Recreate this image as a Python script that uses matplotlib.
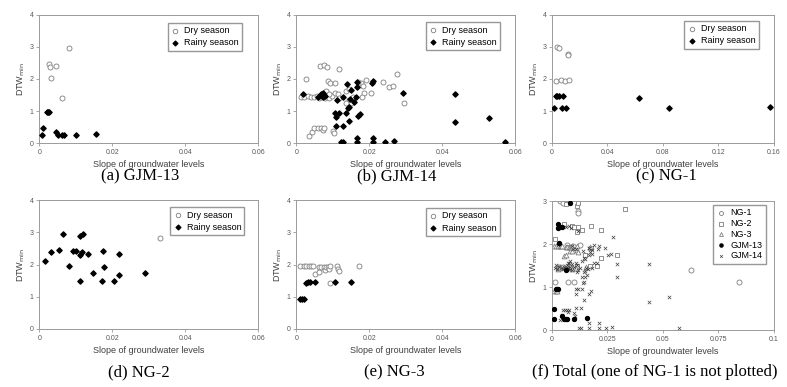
import matplotlib
matplotlib.use("Agg")
import matplotlib.pyplot as plt

# GJM-13
gjm13_dry_x = [0.0081, 0.0027, 0.0029, 0.0046, 0.0032, 0.0063]
gjm13_dry_y = [2.95, 2.47, 2.38, 2.41, 2.03, 1.40]
gjm13_rain_x = [0.0020, 0.0024, 0.0027, 0.0009, 0.0008, 0.0045, 0.0052, 0.0063, 0.0068, 0.0101, 0.0156]
gjm13_rain_y = [0.96, 0.96, 0.96, 0.48, 0.25, 0.34, 0.25, 0.25, 0.25, 0.25, 0.28]

# GJM-14
gjm14_dry_x = [0.0026, 0.0065, 0.0076, 0.0084, 0.0118, 0.0088, 0.0093, 0.0106, 0.0191, 0.0239,
               0.0276, 0.0294, 0.0253, 0.0266, 0.0205, 0.0136, 0.0145, 0.0171, 0.0178, 0.0168,
               0.0145, 0.0150, 0.0136, 0.0155, 0.0182, 0.0187, 0.0180,
               0.0013, 0.0022, 0.0031, 0.0040, 0.0049, 0.0056, 0.0063, 0.0070, 0.0080, 0.0089,
               0.0098, 0.0107, 0.0114, 0.0118, 0.0075, 0.0082, 0.0090,
               0.0034, 0.0043, 0.0049, 0.0059, 0.0068, 0.0072, 0.0077, 0.0100, 0.0103]
gjm14_dry_y = [1.99, 2.40, 2.42, 2.38, 2.30, 1.95, 1.88, 1.88, 1.97, 1.92,
               2.16, 1.24, 1.74, 1.78, 1.57, 1.61, 1.68, 1.81, 1.87, 1.92,
               1.35, 1.24, 1.24, 1.45, 1.78, 1.56, 1.45,
               1.45, 1.43, 1.47, 1.45, 1.43, 1.46, 1.42, 1.45, 1.42, 1.41,
               1.47, 1.56, 1.52, 1.40, 1.56, 1.62, 1.54,
               0.23, 0.36, 0.47, 0.47, 0.47, 0.41, 0.47, 0.39, 0.33]
gjm14_rain_x = [0.0019, 0.0060, 0.0068, 0.0074, 0.0080, 0.0072, 0.0112, 0.0127, 0.0138, 0.0150,
                0.0167, 0.0167, 0.0208, 0.0211, 0.0159, 0.0164, 0.0147, 0.0107, 0.0116, 0.0109,
                0.0136, 0.0141, 0.0145, 0.0145, 0.0168, 0.0176, 0.0109, 0.0129, 0.0123, 0.0129,
                0.0166, 0.0166, 0.0211, 0.0211, 0.0242, 0.0269, 0.0292, 0.0436, 0.0436, 0.0529,
                0.0573]
gjm14_rain_y = [1.52, 1.45, 1.52, 1.45, 1.48, 1.56, 1.35, 1.45, 1.84, 1.66,
                1.92, 1.76, 1.88, 1.95, 1.29, 1.43, 1.38, 0.95, 0.95, 0.83,
                0.95, 1.09, 1.12, 0.70, 0.85, 0.91, 0.52, 0.52, 0.05, 0.05,
                0.16, 0.05, 0.16, 0.05, 0.05, 0.08, 1.55, 1.54, 0.66, 0.77,
                0.05]

# NG-1
ng1_dry_x = [0.0038, 0.0048, 0.0118, 0.0118, 0.0031, 0.0067, 0.0096, 0.0125]
ng1_dry_y = [3.00, 2.96, 2.77, 2.73, 1.95, 1.97, 1.95, 1.97]
ng1_rain_x = [0.0014, 0.0026, 0.0038, 0.0048, 0.0080, 0.0074, 0.0100, 0.0627, 0.0841, 0.157]
ng1_rain_y = [1.11, 1.48, 1.48, 1.48, 1.48, 1.11, 1.11, 1.41, 1.11, 1.14]

# NG-2
ng2_dry_x = [0.0330]
ng2_dry_y = [2.82]
ng2_rain_x = [0.0015, 0.0032, 0.0054, 0.0064, 0.0080, 0.0092, 0.0100, 0.0112, 0.0119, 0.0112,
              0.0116, 0.0112, 0.0134, 0.0147, 0.0172, 0.0174, 0.0177, 0.0204, 0.0219, 0.0219,
              0.0291]
ng2_rain_y = [2.12, 2.40, 2.46, 2.94, 1.94, 2.43, 2.41, 2.89, 2.96, 2.29,
              2.40, 1.49, 2.33, 1.74, 1.49, 2.43, 1.91, 1.49, 1.68, 2.33,
              1.74]

# NG-3
ng3_dry_x = [0.0011, 0.0020, 0.0027, 0.0034, 0.0041, 0.0046, 0.0052, 0.0061, 0.0063, 0.0069,
             0.0075, 0.0080, 0.0081, 0.0086, 0.0089, 0.0092, 0.0092, 0.0111, 0.0113, 0.0118,
             0.0171]
ng3_dry_y = [1.96, 1.96, 1.96, 1.96, 1.96, 1.96, 1.72, 1.93, 1.76, 1.93,
             1.93, 1.83, 1.93, 1.93, 1.85, 1.96, 1.43, 1.96, 1.87, 1.81,
             1.94]
ng3_rain_x = [0.0011, 0.0016, 0.0021, 0.0027, 0.0032, 0.0037, 0.0052, 0.0106, 0.0151]
ng3_rain_y = [0.92, 0.92, 0.92, 1.43, 1.45, 1.46, 1.47, 1.45, 1.47]

slope_label = "Slope of groundwater levels"
dtw_label = "DTW$_{\\mathrm{min}}$"

plt.rcParams["font.family"] = ["Liberation Sans", "DejaVu Sans"]
plt.rcParams["mathtext.default"] = "regular"

gray = "#7f7f7f"
tick_gray = "#595959"
spine_gray = "#9a9a9a"

fig = plt.figure(figsize=(7.87, 3.87), dpi=100)


def style_ax(ax, xmax, xticks, xticklabels, ymax):
    ax.set_xlim(0, xmax)
    ax.set_ylim(0, ymax)
    ax.set_xticks(xticks)
    ax.set_xticklabels(xticklabels)
    ax.set_yticks(range(0, ymax + 1))
    ax.tick_params(labelsize=5, colors=spine_gray, labelcolor=tick_gray, length=2, width=0.6, pad=2)
    for s in ax.spines.values():
        s.set_color(spine_gray)
        s.set_linewidth(0.7)
    ax.set_xlabel(slope_label, fontsize=6.5, color="#404040", labelpad=3)
    ax.set_ylabel(dtw_label, fontsize=6.5, color="#404040", labelpad=2)


def season_panel(rect, dx, dy, rx, ry, xmax, xticks, xticklabels, anchor, caption, cap_xy):
    ax = fig.add_axes(rect)
    ax.scatter(dx, dy, s=13, facecolors="white", edgecolors=gray, linewidths=0.6,
               label="Dry season", zorder=2)
    ax.scatter(rx, ry, s=7, marker="D", color="black", label="Rainy season", zorder=3)
    style_ax(ax, xmax, xticks, xticklabels, 4)
    ax.legend(loc="upper right", bbox_to_anchor=anchor, borderaxespad=0, fontsize=6.5,
              frameon=True, fancybox=False, edgecolor=gray, handletextpad=0.5,
              borderpad=0.35, labelspacing=0.35, handlelength=1.0, markerscale=0.9)
    fig.text(cap_xy[0], cap_xy[1], caption, family="Liberation Serif", fontsize=12,
             ha="center", va="center")
    return ax


x06 = [0, 0.02, 0.04, 0.06]
x06_lab = ["0", "0.02", "0.04", "0.06"]

season_panel([0.050, 0.630, 0.278, 0.332], gjm13_dry_x, gjm13_dry_y, gjm13_rain_x, gjm13_rain_y,
             0.06, x06, x06_lab, (0.927, 0.935), "(a) GJM-13", (140 / 787, 1 - 176 / 387))
season_panel([0.3765, 0.630, 0.278, 0.332], gjm14_dry_x, gjm14_dry_y, gjm14_rain_x, gjm14_rain_y,
             0.06, x06, x06_lab, (0.931, 0.94), "(b) GJM-14", (397 / 787, 1 - 176 / 387))
season_panel([0.7014, 0.630, 0.282, 0.332], ng1_dry_x, ng1_dry_y, ng1_rain_x, ng1_rain_y,
             0.16, [0, 0.04, 0.08, 0.12, 0.16], ["0", "0.04", "0.08", "0.12", "0.16"],
             (0.932, 0.95), "(c) NG-1", (666 / 787, 1 - 176 / 387))
season_panel([0.050, 0.150, 0.278, 0.333], ng2_dry_x, ng2_dry_y, ng2_rain_x, ng2_rain_y,
             0.06, x06, x06_lab, (0.937, 0.943), "(d) NG-2", (139 / 787, 1 - 372 / 387))
season_panel([0.3765, 0.150, 0.278, 0.333], ng3_dry_x, ng3_dry_y, ng3_rain_x, ng3_rain_y,
             0.06, x06, x06_lab, (0.931, 0.936), "(e) NG-3", (394 / 787, 1 - 372 / 387))

# (f) all wells together
ax = fig.add_axes([0.7014, 0.147, 0.282, 0.333])
ax.scatter(ng1_dry_x + ng1_rain_x, ng1_dry_y + ng1_rain_y, s=13, facecolors="white",
           edgecolors=gray, linewidths=0.6, label="NG-1", zorder=2)
ax.scatter(ng2_dry_x + ng2_rain_x, ng2_dry_y + ng2_rain_y, s=10, marker="s", facecolors="white",
           edgecolors=gray, linewidths=0.6, label="NG-2", zorder=2)
ax.scatter(ng3_dry_x + ng3_rain_x, ng3_dry_y + ng3_rain_y, s=12, marker="^", facecolors="white",
           edgecolors=gray, linewidths=0.6, label="NG-3", zorder=2)
ax.scatter(gjm13_dry_x + gjm13_rain_x, gjm13_dry_y + gjm13_rain_y, s=8, color="black",
           label="GJM-13", zorder=3)
ax.scatter(gjm14_dry_x + gjm14_rain_x, gjm14_dry_y + gjm14_rain_y, s=6, marker="x",
           color="#404040", linewidths=0.5, label="GJM-14", zorder=2)
style_ax(ax, 0.1, [0, 0.025, 0.05, 0.075, 0.1], ["0", "0.025", "0.05", "0.075", "0.1"], 3)
ax.legend(loc="upper right", bbox_to_anchor=(0.965, 0.974), borderaxespad=0, fontsize=6.5,
          frameon=True, fancybox=False, edgecolor=gray, handletextpad=0.6,
          borderpad=0.4, labelspacing=0.2, handlelength=1.0, markerscale=0.8)
fig.text(655 / 787, 1 - 372 / 387, "(f) Total (one of NG-1 is not plotted)",
         family="Liberation Serif", fontsize=12, ha="center", va="center")

fig.savefig("out.png", dpi=100)
